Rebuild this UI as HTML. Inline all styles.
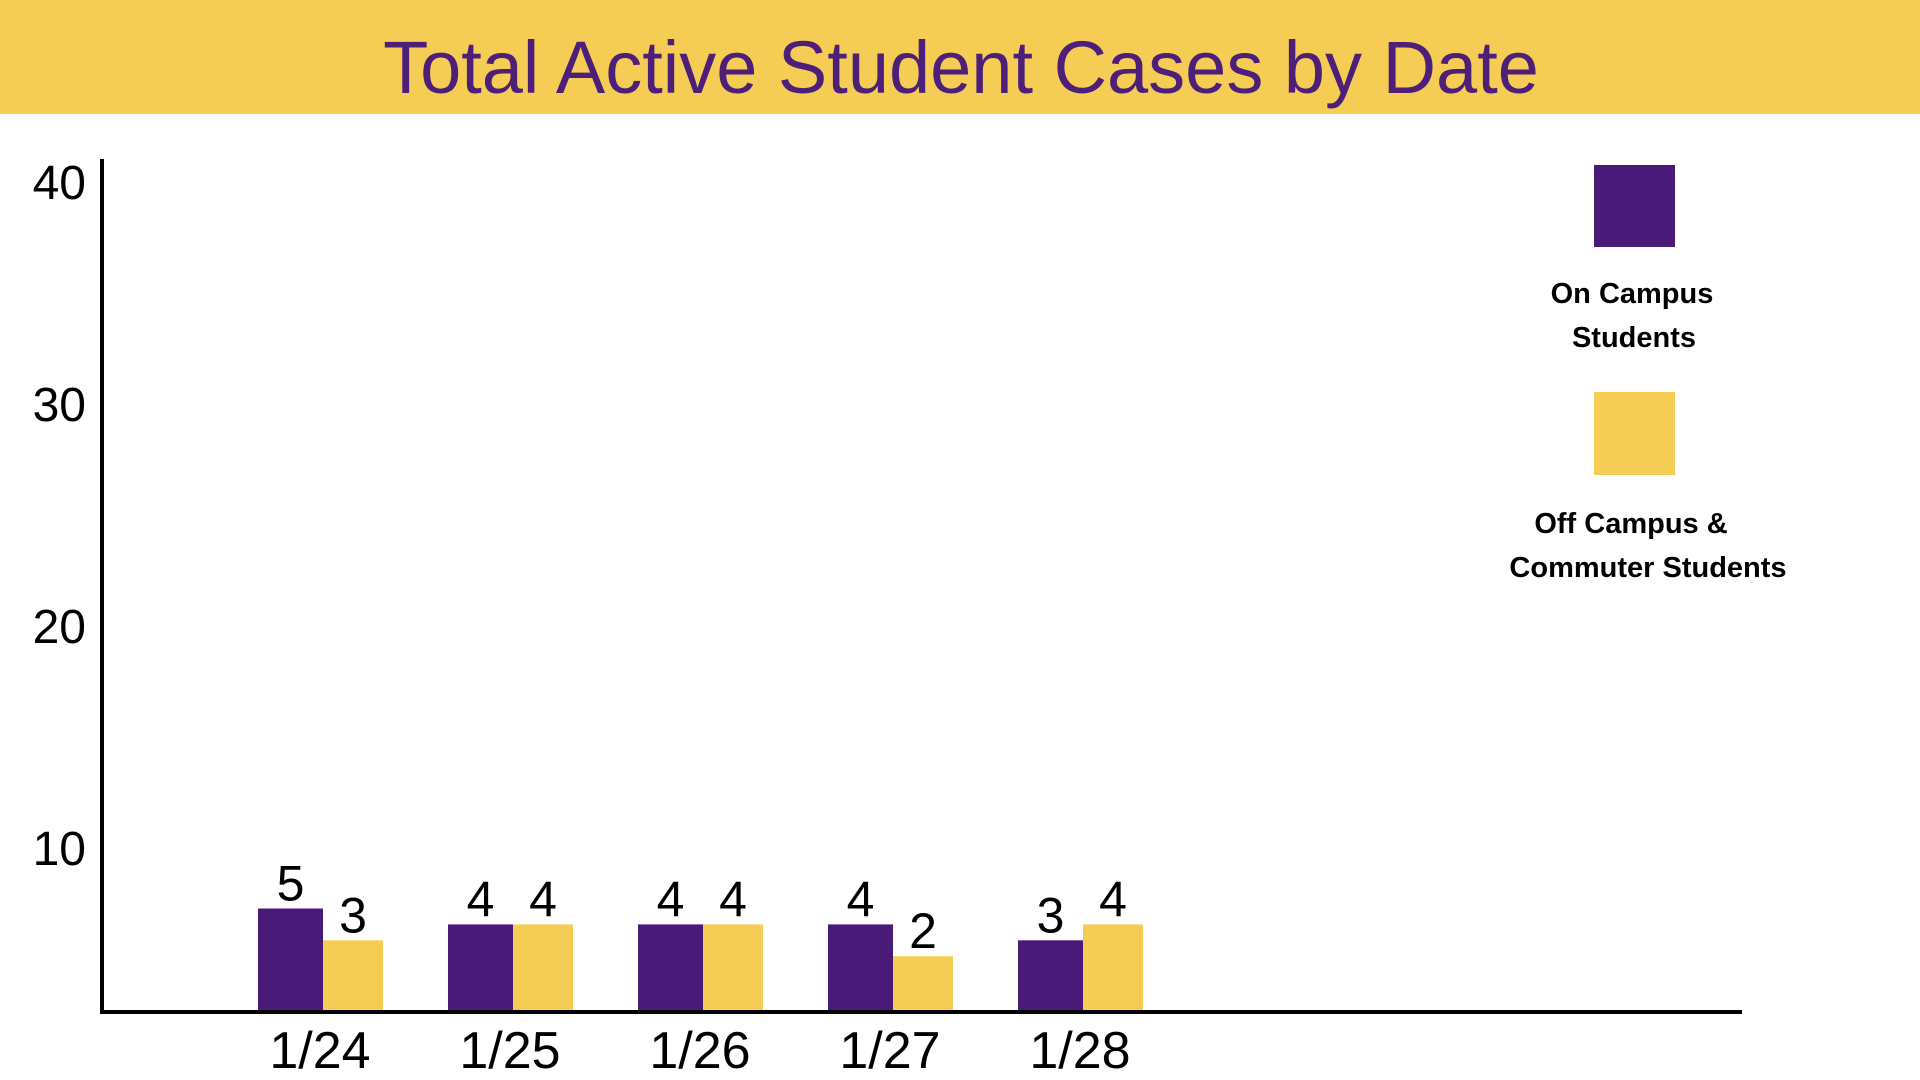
<!DOCTYPE html>
<html><head><meta charset="utf-8"><style>
html,body{margin:0;padding:0;background:#fff;width:1920px;height:1080px;overflow:hidden}
svg{display:block}
</style></head><body>
<svg id="chart" width="1920" height="1080" viewBox="0 0 1920 1080" xmlns="http://www.w3.org/2000/svg" font-family="Liberation Sans, sans-serif">
<rect x="0" y="0" width="1920" height="114" fill="#f5cd55"/>
<text x="961" y="93" text-anchor="middle" font-size="74" fill="#4d1f78">Total Active Student Cases by Date</text>
<line x1="102" y1="159" x2="102" y2="1014" stroke="#000" stroke-width="4"/>
<line x1="100" y1="1012" x2="1742" y2="1012" stroke="#000" stroke-width="4"/>
<g id="yticks"></g><g id="bars"></g>
<rect x="1594" y="165" width="81" height="82" fill="#4a1a78"/>
<text text-anchor="middle" font-size="29" font-weight="bold" fill="#000"><tspan x="1632" y="303">On Campus</tspan><tspan x="1634" y="347">Students</tspan></text>
<rect x="1594" y="392" width="81" height="83" fill="#f5cd55"/>
<text text-anchor="middle" font-size="29" font-weight="bold" fill="#000"><tspan x="1631" y="533">Off Campus &amp;</tspan><tspan x="1648" y="577">Commuter Students</tspan></text>
</svg>
<script>
const categories = ["1/24","1/25","1/26","1/27","1/28"];
const onCampus = [5,4,4,4,3];
const offCampus = [3,4,4,2,4];
const yTicks = [10,20,30,40];

const NS = "http://www.w3.org/2000/svg";
const base = 1010;
function yAxis(v){ return 626 + (20 - v) * 22.2; }
function barH(v){ return 15.9 * v + 22; }
function groupX(i){ return 258 + i * 190; }

const yt = document.getElementById('yticks');
yTicks.forEach(t => {
  const el = document.createElementNS(NS,'text');
  
  
  el.setAttribute('x', 86); el.setAttribute('y', yAxis(t) + 17);
  el.setAttribute('text-anchor','end'); el.setAttribute('font-size','48');
  el.textContent = t; yt.appendChild(el);
});

const g = document.getElementById('bars');
categories.forEach((c,i) => {
  const x0 = groupX(i);
  const specs = [[onCampus[i], x0, 65, '#4a1a78', 'bar-on-campus'], [offCampus[i], x0 + 65, 60, '#f5cd55', 'bar-off-campus']];
  specs.forEach(s => {
    const h = barH(s[0]);
    const r = document.createElementNS(NS,'rect');
    
    
    r.setAttribute('x', s[1]); r.setAttribute('y', base - h);
    r.setAttribute('width', s[2]); r.setAttribute('height', h);
    r.setAttribute('fill', s[3]); g.appendChild(r);
    const t = document.createElementNS(NS,'text');
    
    
    t.setAttribute('x', s[1] + s[2]/2); t.setAttribute('y', base - h - 8);
    t.setAttribute('text-anchor','middle'); t.setAttribute('font-size','50');
    t.textContent = s[0]; g.appendChild(t);
  });
  const l = document.createElementNS(NS,'text');
  
  
  l.setAttribute('x', x0 + 62); l.setAttribute('y', 1068);
  l.setAttribute('text-anchor','middle'); l.setAttribute('font-size','52');
  l.textContent = c; g.appendChild(l);
});
</script>
</body></html>
